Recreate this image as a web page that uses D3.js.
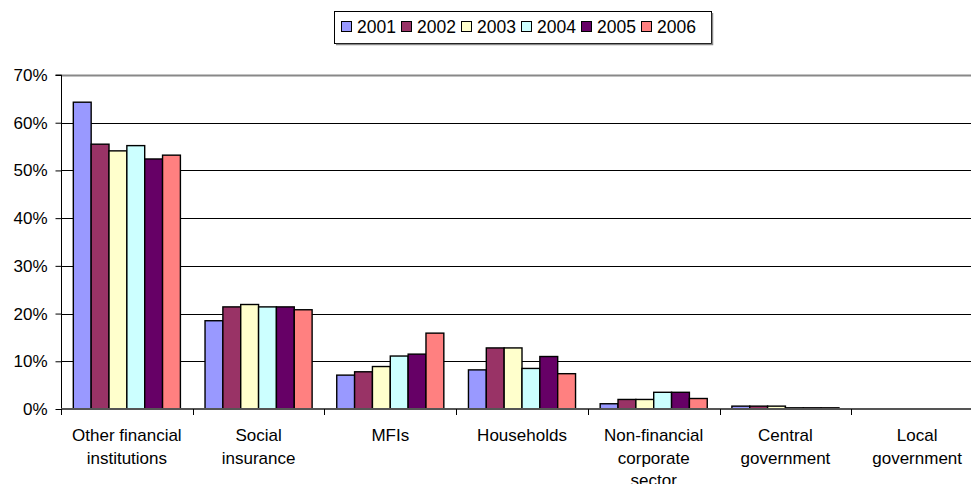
<!DOCTYPE html>
<html>
<head>
<meta charset="utf-8">
<script src="https://cdn.jsdelivr.net/npm/d3@7"></script>
<style>
  html, body { margin: 0; padding: 0; background: #fff; }
  svg { display: block; font-family: "Liberation Sans", Arial, sans-serif; }
</style>
</head>
<body>
<svg id="chart" width="971" height="484"></svg>
<script>
// Sectors (x categories), each label split into display lines
const categories = [
  "Other financial institutions",
  "Social insurance",
  "MFIs",
  "Households",
  "Non-financial corporate sector",
  "Central government",
  "Local government"
];
const categoryLines = [
  ["Other financial", "institutions"],
  ["Social", "insurance"],
  ["MFIs"],
  ["Households"],
  ["Non-financial", "corporate", "sector"],
  ["Central", "government"],
  ["Local", "government"]
];

const years = ["2001", "2002", "2003", "2004", "2005", "2006"];
const yearColors = ["#9999FF", "#993366", "#FFFFCC", "#CCFFFF", "#660066", "#FF8080"];

// Share of each sector (%), one array per year, in category order
const values2001 = [64.3, 18.5, 7.1, 8.2, 1.1, 0.6, 0];
const values2002 = [55.5, 21.4, 7.8, 12.8, 2.0, 0.6, 0];
const values2003 = [54.1, 21.9, 8.9, 12.8, 2.0, 0.6, 0];
const values2004 = [55.2, 21.4, 11.1, 8.5, 3.5, 0.25, 0];
const values2005 = [52.4, 21.4, 11.5, 11.0, 3.5, 0.25, 0];
const values2006 = [53.2, 20.8, 15.9, 7.4, 2.2, 0.25, 0];
const seriesValues = [values2001, values2002, values2003, values2004, values2005, values2006];

const yTicks = [0, 10, 20, 30, 40, 50, 60, 70];

const svg = d3.select("#chart");
const plotLeft = 61, plotRight = 983, plotTop = 75, plotBottom = 409;

const x = d3.scaleBand().domain(categories).range([plotLeft, plotRight]).paddingInner(0).paddingOuter(0);
const inner = d3.scaleBand().domain(years).range([0, x.bandwidth()]).paddingOuter(0.69).paddingInner(0);
const y = d3.scaleLinear().domain([0, 70]).range([plotBottom, plotTop]);

// Horizontal gridlines
svg.append("g")
  .selectAll("line")
  .data(yTicks.filter(t => t > 0))
  .join("line")
  .attr("x1", plotLeft).attr("x2", 971)
  .attr("y1", d => Math.round(y(d)) + 0.5)
  .attr("y2", d => Math.round(y(d)) + 0.5)
  .attr("stroke", d => d === 70 ? "#888" : "#000")
  .attr("stroke-width", d => d === 70 ? 2 : 1);

// Bars
const groups = svg.append("g")
  .selectAll("g")
  .data(years)
  .join("g")
  .attr("fill", (d, i) => yearColors[i]);

groups.selectAll("rect")
  .data((yr, si) => categories.map((c, ci) => ({ cat: c, yr: yr, v: seriesValues[si][ci] })))
  .join("rect")
  .attr("x", d => x(d.cat) + inner(d.yr))
  .attr("width", inner.bandwidth())
  .attr("y", d => y(d.v))
  .attr("height", d => y(0) - y(d.v))
  .attr("stroke", "#000")
  .attr("stroke-width", 1.4);

// Y axis
const yAxis = d3.axisLeft(y)
  .tickValues(yTicks)
  .tickFormat(d => d + "%")
  .tickSize(6)
  .tickPadding(8);
const yg = svg.append("g").attr("transform", `translate(${plotLeft + 0.5},0)`).call(yAxis);
yg.select(".domain").attr("stroke", "#000").attr("d", `M-6,${plotTop}H0V${plotBottom}`);
yg.selectAll(".tick line").attr("stroke", "#000");
yg.selectAll(".tick text").attr("font-size", 17).attr("fill", "#000")
  .attr("font-family", "'Liberation Sans', Arial, sans-serif");

// X axis baseline and category ticks
svg.append("line")
  .attr("x1", plotLeft).attr("x2", 971)
  .attr("y1", plotBottom).attr("y2", plotBottom)
  .attr("stroke", "#555").attr("stroke-width", 2);

const boundaries = d3.range(categories.length + 1).map(i => plotLeft + i * x.step());
svg.append("g")
  .selectAll("line")
  .data(boundaries)
  .join("line")
  .attr("x1", d => Math.round(d) + 0.5).attr("x2", d => Math.round(d) + 0.5)
  .attr("y1", plotBottom).attr("y2", plotBottom + 6)
  .attr("stroke", "#000");

// Category labels
const labels = svg.append("g")
  .attr("font-size", 17)
  .attr("text-anchor", "middle")
  .attr("fill", "#000")
  .selectAll("text")
  .data(categories)
  .join("text")
  .attr("x", d => x(d) + x.bandwidth() / 2)
  .attr("y", 441);
labels.selectAll("tspan")
  .data((d, i) => categoryLines[i])
  .join("tspan")
  .attr("x", function() { return this.parentNode.getAttribute("x"); })
  .attr("dy", (d, i) => i === 0 ? 0 : 22.6)
  .text(d => d);

// Legend
const legendX = 334, legendY = 11, legendW = 377, legendH = 32, itemStep = 60;
const legend = svg.append("g");
legend.append("rect")
  .attr("x", legendX + 0.5).attr("y", legendY + 0.5)
  .attr("width", legendW).attr("height", legendH)
  .attr("fill", "#fff").attr("stroke", "#000").attr("stroke-width", 1);
// shadow edges of the legend frame
legend.append("path")
  .attr("d", `M${legendX + 2},${legendY + legendH + 1.5}H${legendX + legendW + 1.5}V${legendY + 2}`)
  .attr("fill", "none").attr("stroke", "#888").attr("stroke-width", 1.5);

const items = legend.selectAll("g.item")
  .data(years)
  .join("g")
  .attr("class", "item")
  .attr("transform", (d, i) => `translate(${legendX + 7 + i * itemStep},${legendY + legendH / 2})`);
items.append("rect")
  .attr("x", 0.5).attr("y", -5.5)
  .attr("width", 10).attr("height", 10)
  .attr("fill", (d, i) => yearColors[i])
  .attr("stroke", "#000");
items.append("text")
  .attr("x", 16).attr("y", 6)
  .attr("font-size", 17.5)
  .attr("fill", "#000")
  .text(d => d);
</script>
</body>
</html>
